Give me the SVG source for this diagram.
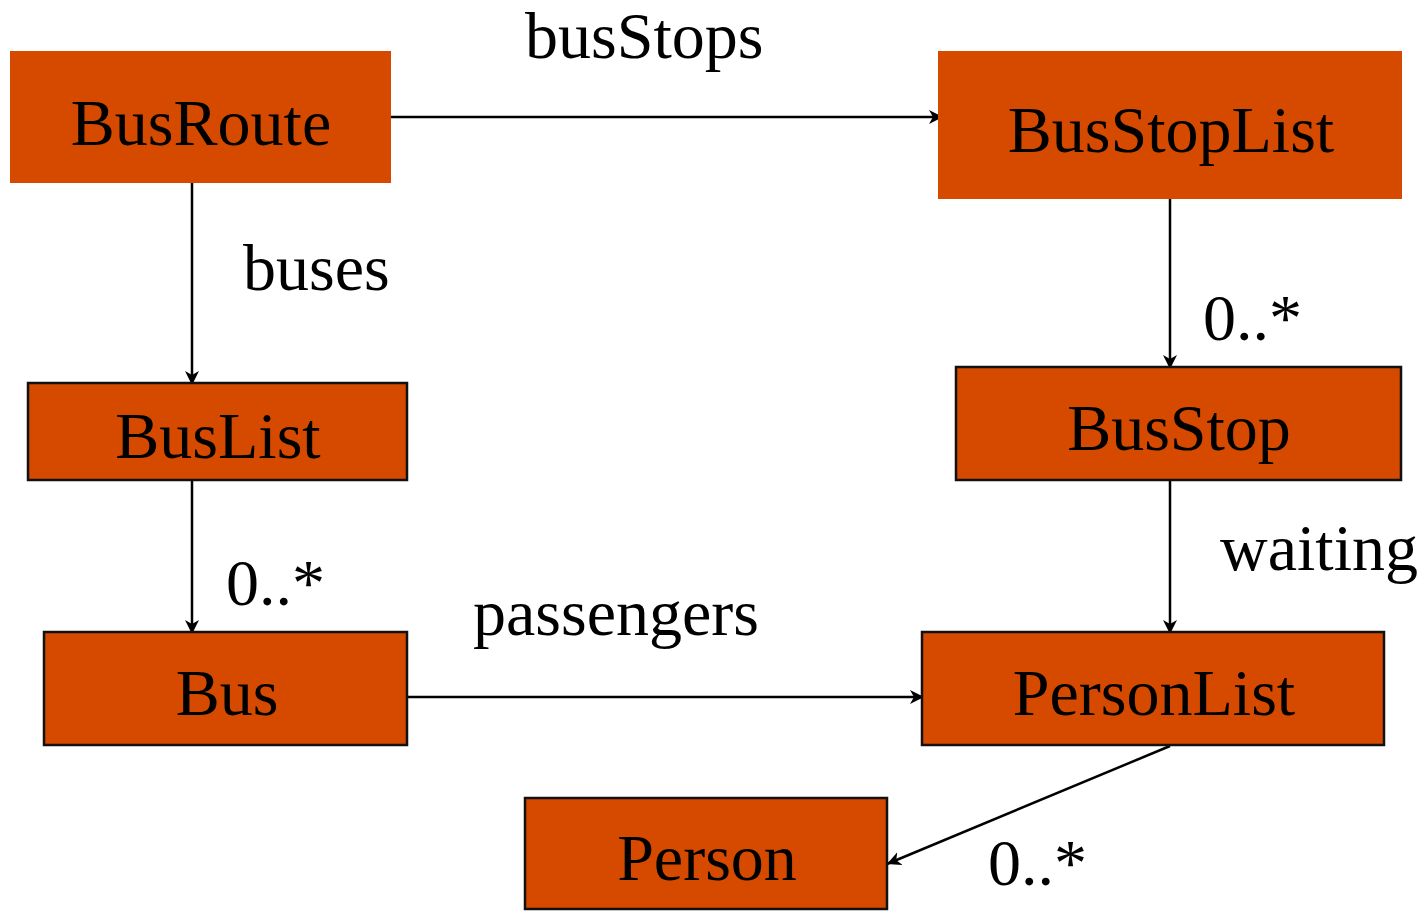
<svg xmlns="http://www.w3.org/2000/svg" width="1423" height="911" viewBox="0 0 1423 911">
<style>
.box{fill:#D64A00}
.bd{stroke:#111;stroke-width:2.5}
text{font-family:"Liberation Serif","Times New Roman",serif;font-size:66px;fill:#000}
.c{text-anchor:middle}
.ln{stroke:#000;stroke-width:2.5;fill:none;marker-end:url(#ah)}
</style>
<defs>
<marker id="ah" markerWidth="16" markerHeight="14" refX="14" refY="7" orient="auto" markerUnits="userSpaceOnUse">
<path d="M0,0 L14,7 L0,14 L4,7 Z" fill="#000"/>
</marker>
</defs>
<rect width="1423" height="911" fill="#fff"/>
<g id="connectors">
<line class="ln" x1="391" y1="117" x2="943" y2="117"/>
<line class="ln" x1="192" y1="183" x2="192" y2="385"/>
<line class="ln" x1="192" y1="480" x2="192" y2="634"/>
<line class="ln" x1="1170" y1="199" x2="1170" y2="369"/>
<line class="ln" x1="1170" y1="480" x2="1170" y2="634"/>
<line class="ln" x1="407" y1="697" x2="924" y2="697"/>
<line class="ln" x1="1170" y1="746" x2="887" y2="864"/>
</g>
<g id="labels">
<text x="525" y="58">busStops</text>
<text x="243" y="290">buses</text>
<text x="1203" y="340">0..*</text>
<text x="1220" y="570">waiting</text>
<text x="226" y="605">0..*</text>
<text x="473" y="635">passengers</text>
<text x="988" y="885">0..*</text>
</g>
<g id="BusRoute"><rect class="box" x="10" y="51" width="381" height="132"/><text class="c" x="201" y="145">BusRoute</text></g>
<g id="BusStopList"><rect class="box" x="938" y="51" width="464" height="148"/><text class="c" x="1171" y="152">BusStopList</text></g>
<g id="BusList"><rect class="box bd" x="28" y="383" width="379" height="97"/><text class="c" x="218" y="458">BusList</text></g>
<g id="BusStop"><rect class="box bd" x="956" y="367" width="445" height="113"/><text class="c" x="1179" y="450">BusStop</text></g>
<g id="Bus"><rect class="box bd" x="44" y="632" width="363" height="113"/><text class="c" x="227" y="715">Bus</text></g>
<g id="PersonList"><rect class="box bd" x="922" y="632" width="462" height="113"/><text class="c" x="1154" y="715">PersonList</text></g>
<g id="Person"><rect class="box bd" x="525" y="798" width="362" height="111"/><text class="c" x="707" y="880">Person</text></g>
</svg>
